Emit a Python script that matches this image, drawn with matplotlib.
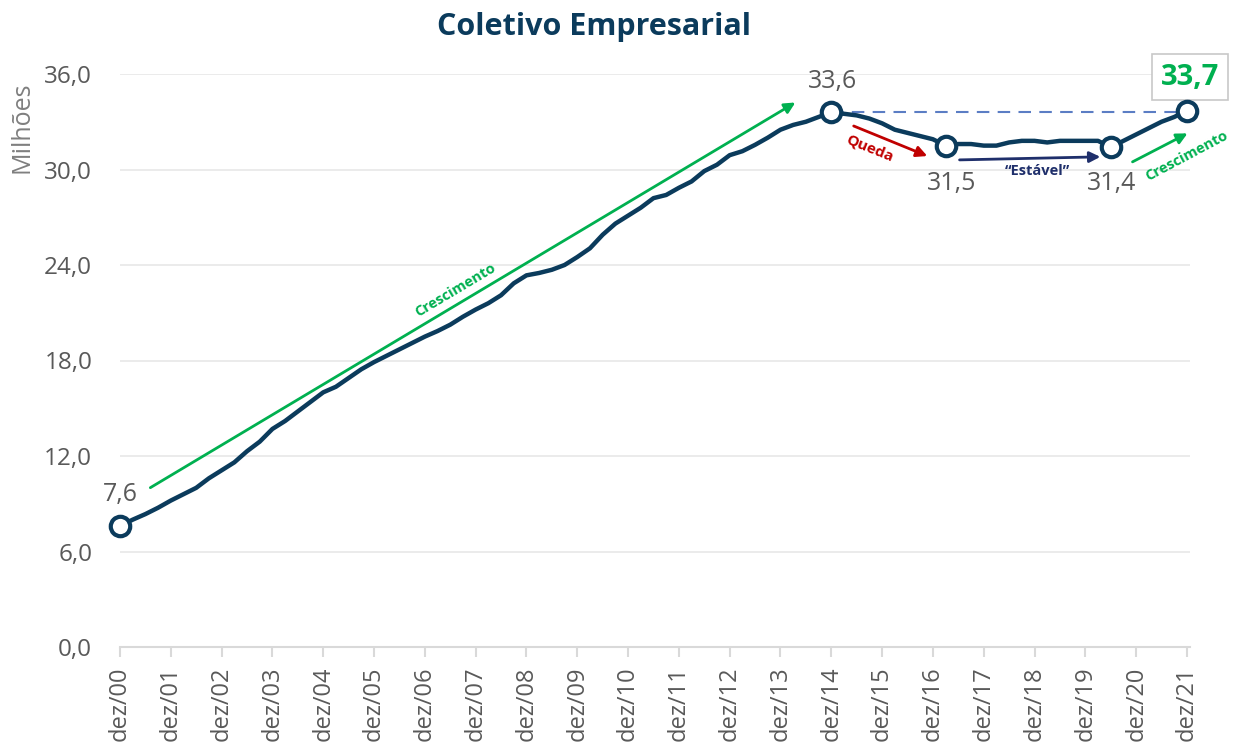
import numpy as np
import matplotlib
matplotlib.use('Agg')
from matplotlib import pyplot as plt

plt.rcParams['font.family'] = ['Open Sans', 'DejaVu Sans']

# dados trimestrais (milhões de beneficiários), dez/00 .. dez/21
t = np.arange(85) * 0.25
valores = [
    7.6, 8.0, 8.35, 8.75, 9.2, 9.6, 10.0, 10.6, 11.1, 11.6, 12.3, 12.9,
    13.7, 14.2, 14.8, 15.4, 16.0, 16.35, 16.9, 17.45, 17.9, 18.3, 18.7, 19.1,
    19.5, 19.85, 20.25, 20.75, 21.2, 21.6, 22.1, 22.85, 23.35, 23.5, 23.7, 24.0,
    24.5, 25.05, 25.9, 26.6, 27.1, 27.6, 28.2, 28.4, 28.85, 29.25, 29.9, 30.3,
    30.9, 31.15, 31.55, 32.0, 32.5, 32.8, 33.0, 33.3, 33.6,
    33.5, 33.4, 33.2, 32.9, 32.5, 32.3, 32.1, 31.9, 31.5,
    31.6, 31.6, 31.5, 31.5, 31.7, 31.8, 31.8, 31.7, 31.8, 31.8, 31.8, 31.8, 31.4,
    31.8, 32.2, 32.6, 33.0, 33.3, 33.7,
]
rotulos_x = ['dez/%02d' % a for a in range(22)]
yticks = [0, 6, 12, 18, 24, 30, 36]

# pontos em destaque
destaque_t = [0, 14, 16.25, 19.5, 21]
destaque_v = [7.6, 33.6, 31.5, 31.4, 33.7]

azul = '#0B3B5C'
verde = '#00B050'
vermelho = '#C00000'
cinza = '#595959'

fig = plt.figure(figsize=(12.41, 7.47), dpi=100)
ax = fig.add_axes([120/1241, 1-647/747, 1070/1241, 573/747])

ax.plot(t, valores, color=azul, lw=3.2, zorder=3, solid_capstyle='round')
ax.plot(destaque_t, destaque_v, 'o', ms=14, mfc='white', mec=azul, mew=3, zorder=4,
        clip_on=False)

# linha tracejada de referência
ax.plot([14, 21], [33.6, 33.6], ls='--', color='#5B7DC4', lw=1.5, zorder=2, dashes=(6, 4))

ax.set_xlim(0, 21.06)
ax.set_ylim(0, 36)
ax.set_yticks(yticks)
ax.set_yticklabels(['%d,0' % v for v in yticks], fontsize=17.5, color=cinza)
ax.set_xticks(range(22))
ax.set_xticklabels(rotulos_x, rotation=90, fontsize=17, color=cinza)
ax.grid(axis='y', color='#E8E8E8', lw=1.2)
ax.set_axisbelow(True)
for s in ['top', 'right', 'left']:
    ax.spines[s].set_visible(False)
ax.spines['bottom'].set_color('#D9D9D9')
ax.spines['bottom'].set_linewidth(1.5)
ax.tick_params(axis='y', length=0, pad=20)
ax.tick_params(axis='x', length=7, color='#D9D9D9', width=1.5, pad=7)

# rótulos dos valores
ax.text(0, 9.55, '7,6', ha='center', va='center', fontsize=18, color=cinza)
ax.text(14.03, 35.5, '33,6', ha='center', va='center', fontsize=18, color=cinza)
ax.text(16.37, 29.15, '31,5', ha='center', va='center', fontsize=18, color=cinza)
ax.text(19.52, 29.15, '31,4', ha='center', va='center', fontsize=18, color=cinza)
ax.text(21.06, 35.8, '33,7', ha='center', va='center', fontsize=21, color=verde,
        fontweight='bold', clip_on=False,
        bbox=dict(boxstyle='square,pad=0.3', fc='white', ec='#C8C8C8', lw=1.2))

# setas
ax.annotate('', xy=(13.34, 34.3), xytext=(0.55, 9.92),
            arrowprops=dict(arrowstyle='-|>', color=verde, lw=2, mutation_scale=16))
ax.text(6.6, 22.4, 'Crescimento', rotation=30.8, rotation_mode='anchor', ha='center',
        va='center', fontsize=10.5, color=verde, fontweight='bold')

ax.annotate('', xy=(15.94, 30.78), xytext=(14.39, 32.8),
            arrowprops=dict(arrowstyle='-|>', color=vermelho, lw=2, mutation_scale=16))
ax.text(14.76, 31.35, 'Queda', rotation=-22, rotation_mode='anchor', ha='center',
        va='center', fontsize=11, color=vermelho, fontweight='bold')

ax.annotate('', xy=(19.35, 30.8), xytext=(16.47, 30.6),
            arrowprops=dict(arrowstyle='-|>', color='#1F2F6B', lw=2, mutation_scale=16))
ax.text(18.05, 29.9, '\u201cEstável\u201d', ha='center', va='center', fontsize=10.5,
        color='#1F2F6B', fontweight='bold')

ax.annotate('', xy=(21.06, 32.35), xytext=(19.88, 30.4),
            arrowprops=dict(arrowstyle='-|>', color=verde, lw=2, mutation_scale=16),
            annotation_clip=False)
ax.text(21.0, 30.85, 'Crescimento', rotation=28, rotation_mode='anchor', ha='center',
        va='center', fontsize=10.5, color=verde, fontweight='bold', clip_on=False)

fig.text(594/1241, 1-27/747, 'Coletivo Empresarial', ha='center', va='center',
         fontsize=22, fontweight='bold', color=azul)
fig.text(22/1241, 1-127/747, 'Milhões', rotation=90, ha='center', va='center',
         fontsize=18, color='#7F7F7F')

fig.savefig('out.png', dpi=100)
